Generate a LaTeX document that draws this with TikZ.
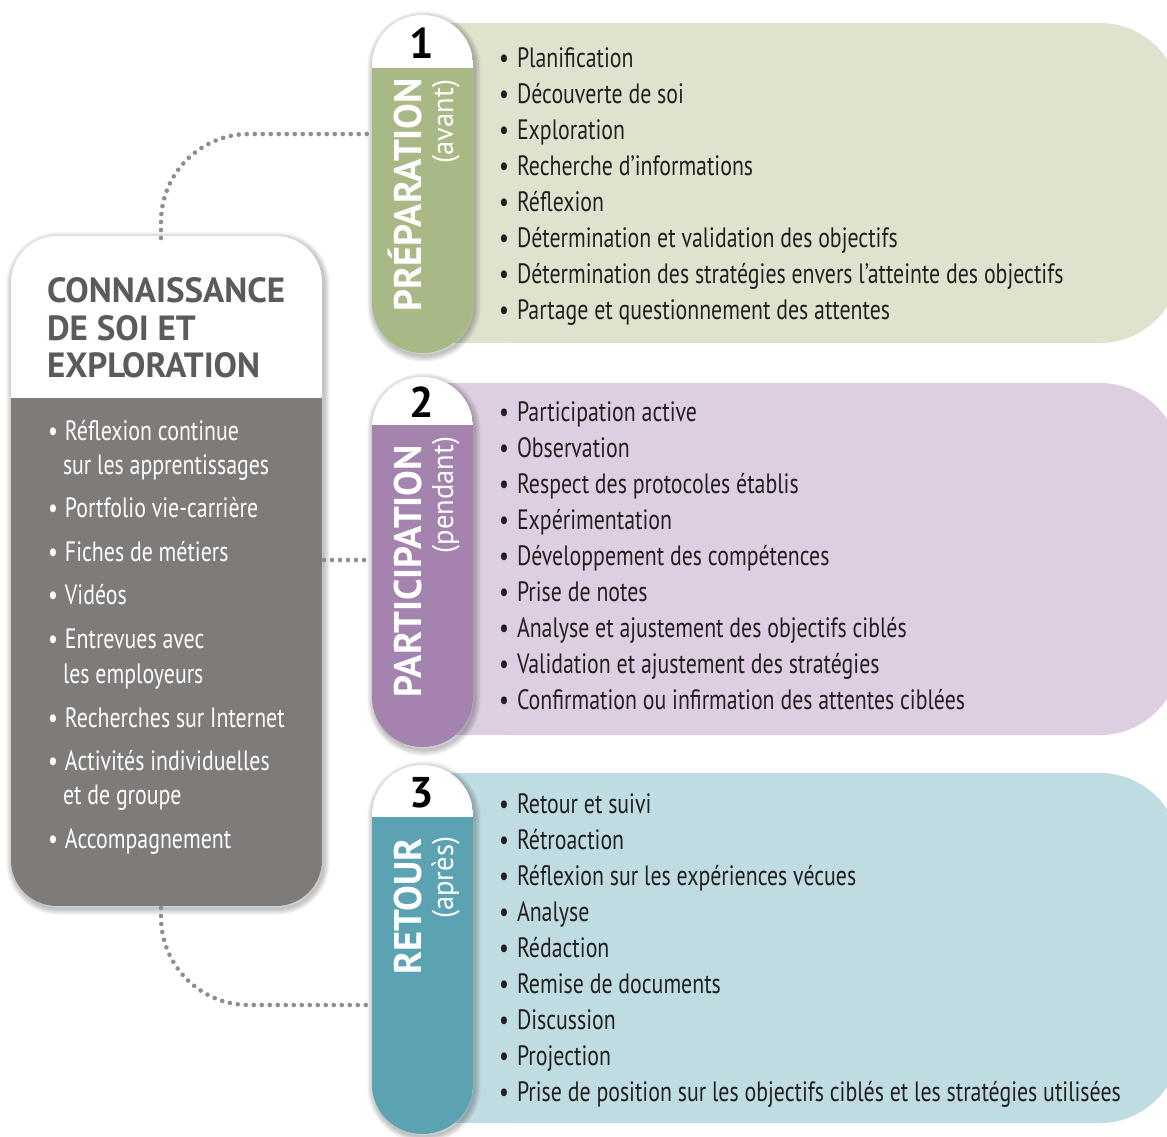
\documentclass[tikz,border=0pt]{standalone}
\usepackage{fontspec}
\setmainfont{PT Sans}
\newfontfamily\condf[FakeStretch=0.78]{PT Sans}
\newfontfamily\semif[FakeStretch=0.95]{PT Sans}
\definecolor{greenTab}{HTML}{A9B985}
\definecolor{greenPanel}{HTML}{DFE3CE}
\definecolor{purpleTab}{HTML}{A483AE}
\definecolor{purplePanel}{HTML}{DDCEE1}
\definecolor{tealTab}{HTML}{5BA3B3}
\definecolor{tealPanel}{HTML}{BEDCE1}
\definecolor{boxgray}{HTML}{7F7B79}
\definecolor{headgray}{HTML}{5E5A59}
\definecolor{dotgray}{HTML}{8E8D91}
\definecolor{textdark}{HTML}{231F20}
\newcommand\bul{\makebox[18pt][l]{•}}
\newcommand\lbul{\makebox[17pt][l]{•}}
\newcommand\softshadow[5]{%
  \foreach \k in {1,...,8}{%
    \draw[black, opacity=0.03, line width=\k*1.6pt, rounded corners=#5]
      ({#1+1.5},{#2+2.5}) rectangle ({#3+1.5},{#4+2.5});}}
\newcommand\tabshape[4]{%
  \softshadow{372}{#1}{473}{#3}{50}
  \begin{scope}
    \clip[rounded corners=50] (372,#1) rectangle (473,#3);
    \fill[white] (372,#1) rectangle (473,#2);
    \fill[#4] (372,#2) rectangle (473,#3);
  \end{scope}}
\newcommand\panelshape[3]{%
  \fill[#3, rounded corners=80] (430,#1) rectangle (1180,#2);
  \fill[#3] (430,#1) rectangle (600,#2);}
\begin{document}
\begin{tikzpicture}[x=1pt,y=-1pt,
  every node/.style={inner sep=0pt, outer sep=0pt},
  item/.style={anchor=base west, font=\condf\fontsize{28}{34}\selectfont, text=textdark},
  litem/.style={anchor=base west, font=\condf\fontsize{28}{34}\selectfont, text=white},
  head/.style={anchor=base west, font=\bfseries\fontsize{35}{40}\selectfont, text=headgray},
  tablabel/.style={rotate=90, anchor=base east, font=\bfseries\fontsize{38.5}{42}\selectfont, text=white},
  tabsub/.style={rotate=90, anchor=base east, font=\semif\fontsize{30}{34}\selectfont, text=white},
  num/.style={font=\bfseries\fontsize{43}{46}\selectfont, text=black},
  dots/.style={draw=dotgray, line width=4.6pt, line cap=round, dash pattern=on 0pt off 8pt}]
\useasboundingbox (0,0) rectangle (1167,1136);
\fill[white] (0,0) rectangle (1167,1136);
\begin{scope}
\clip (0,0) rectangle (1167,1136);
% panels
\panelshape{23}{343}{greenPanel}
\panelshape{383}{735}{purplePanel}
\panelshape{773}{1123}{tealPanel}
% tabs
\tabshape{15}{68}{353}{greenTab}
\tabshape{377}{425}{747}{purpleTab}
\tabshape{765}{817}{1134}{tealTab}
% left box
\softshadow{11}{236}{322}{906}{46}
\begin{scope}
  \clip[rounded corners=46] (11,236) rectangle (322,906);
  \fill[white] (11,236) rectangle (322,398);
  \fill[boxgray] (11,398) rectangle (322,906);
\end{scope}
\end{scope}
% connector end points
\coordinate (kTop) at (161,238);
\coordinate (kBot) at (161,908);
\coordinate (kRight) at (324,560);
\coordinate (t1L) at (370,134);
\coordinate (t2L) at (370,560);
\coordinate (t3L) at (370,1005);
\draw[dots, rounded corners=88] (kTop) |- (t1L);
\draw[dots] (kRight) -- (t2L);
\draw[dots, rounded corners=88] (kBot) |- (t3L);
% header
\node[head] (h1) at (47,302) {CONNAISSANCE};
\node[head] (h2) at (47,340) {DE SOI ET};
\node[head] (h3) at (47,377) {EXPLORATION};
% left list
\node[litem] (k1) at (48,440) {\lbul Réflexion continue};
\node[litem] (k1b) at (63,474) {sur les apprentissages};
\node[litem] (k2) at (48,517) {\lbul Portfolio vie-carrière};
\node[litem] (k3) at (48,561) {\lbul Fiches de métiers};
\node[litem] (k4) at (48,604) {\lbul Vidéos};
\node[litem] (k5) at (48,648) {\lbul Entrevues avec};
\node[litem] (k5b) at (63,683) {les employeurs};
\node[litem] (k6) at (48,727) {\lbul Recherches sur Internet};
\node[litem] (k7) at (48,770) {\lbul Activités individuelles};
\node[litem] (k7b) at (63,804) {et de groupe};
\node[litem] (k8) at (48,848) {\lbul Accompagnement};
% numbers and tab labels
\node[num] (n1) at (422,43) {1};
\node[num] (n2) at (422,402) {2};
\node[num] (n3) at (422,793) {3};
\node[tablabel] (l1) at (421,78) {PRÉPARATION};
\node[tabsub] (s1) at (453,80) {(avant)};
\node[tablabel] (l2) at (421,445) {PARTICIPATION};
\node[tabsub] (s2) at (453,437) {(pendant)};
\node[tablabel] (l3) at (421,838) {RETOUR};
\node[tabsub] (s3) at (453,837) {(après)};
% panel lists
\foreach \t [count=\i] in {Planification, Découverte de soi, Exploration, Recherche d’informations, Réflexion, Détermination et validation des objectifs, Détermination des stratégies envers l’atteinte des objectifs, Partage et questionnement des attentes}
  \node[item] (pa\i) at (499,{67+36*(\i-1)}) {\bul\t};
\foreach \t [count=\i] in {Participation active, Observation, Respect des protocoles établis, Expérimentation, Développement des compétences, Prise de notes, Analyse et ajustement des objectifs ciblés, Validation et ajustement des stratégies, Confirmation ou infirmation des attentes ciblées}
  \node[item] (pb\i) at (499,{421+36*(\i-1)}) {\bul\t};
\foreach \t [count=\i] in {Retour et suivi, Rétroaction, Réflexion sur les expériences vécues, Analyse, Rédaction, Remise de documents, Discussion, Projection, Prise de position sur les objectifs ciblés et les stratégies utilisées}
  \node[item] (pc\i) at (499,{813+36*(\i-1)}) {\bul\t};
\end{tikzpicture}
\end{document}
